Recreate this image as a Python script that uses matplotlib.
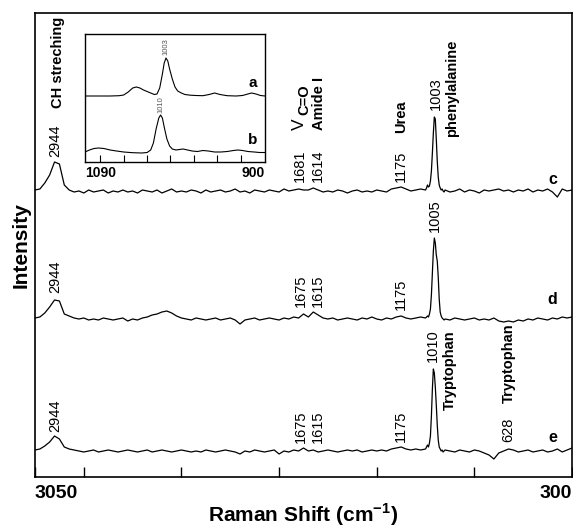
import numpy as np
import matplotlib
matplotlib.use("Agg")
import matplotlib.pyplot as plt

plt.rcParams['font.family'] = ['Liberation Sans', 'DejaVu Sans']
plt.rcParams['mathtext.fontset'] = 'custom'
plt.rcParams['mathtext.rm'] = 'Liberation Sans'
plt.rcParams['mathtext.bf'] = 'Liberation Sans:bold'

# Raman shift sampling (cm-1): coarse, finer around the 1000 cm-1 band, coarse
shift = np.concatenate([np.arange(3050, 1050, -25),
                        np.arange(1050, 950, -5),
                        np.arange(950, 299, -25)])

# intensities (arbitrary units, relative to each baseline)
spec_c = [1, 2, 8, 16, 29, 27, 6, 1, -1, 0,
          -2, 1, -1, 0, 1, -2, 0, -1, 1, -1,
          0, -2, 1, 0, -1, 1, -2, 0, 2, -1,
          0, -1, 1, 0, -2, 1, -1, 0, 1, -1,
          0, 2, -1, 0, -2, 1, 0, -1, 1, 0,
          -1, 2, 0, 1, 2, 1, 1, 3, 1, -1,
          0, -1, 1, 0, -2, 0, 1, -1, 0, -1,
          1, 0, -1, 2, 3, 4, 2, 0, 1, 2,
          # 1050 .. 955
          1, 3, 6, 4, 5, 10, 20, 38, 58, 74, 72, 52, 30, 14, 6, 3, 1, 2, 0, -1,
          # 950 .. 300
          1, -1, 0, 2, -1, 1, 0, -2, 1, 0, 1, 2, 0, 1, -1, 1, 0, 2, -1, 1,
          0, 2, -1, -6, 2, 0, 1]

spec_d = [1, 2, 6, 12, 19, 18, 5, 3, 1, 0,
          1, -1, 0, -1, 1, 0, -1, 0, 1, -2,
          0, -1, 1, 2, 4, 5, 7, 8, 6, 3,
          1, 0, -1, 1, 0, -1, 0, 1, -1, 0,
          1, -1, -5, -1, 0, 1, -1, 0, 1, 0,
          -1, 1, 0, 2, 1, 5, 2, 7, 4, 1,
          0, 1, -1, 0, 1, 0, -1, 1, 0, 2,
          0, -1, 1, 0, 2, 3, 1, 0, 1, 2,
          # 1050 .. 955
          1, 2, 3, 2, 5, 10, 24, 46, 68, 81, 76, 64, 58, 42, 20, 7, 3, 1, 0, -1,
          # 950 .. 300
          0, -1, 1, 0, -1, 0, 1, -1, 0, -1, 1, -2, -3, -2, -3, -1, -2, 0, -1, 1,
          0, -1, 1, 0, 2, 1, 2]

spec_e = [1, 2, 5, 9, 15, 12, 4, 2, 1, 0,
          -1, 0, 1, -1, 0, 1, 0, -1, 0, 1,
          0, -1, 0, 1, -1, 0, 1, 0, -1, 0,
          1, 0, -1, 0, -1, 1, 0, -1, 0, 1,
          0, -1, -3, 0, -1, 1, 0, -1, 0, 1,
          -3, 0, -1, 1, 0, 3, 0, 1, -1, 0,
          1, 0, -1, 0, 1, 0, 1, -1, 0, 1,
          0, 1, 0, 2, 3, 4, 2, 1, 2, 1,
          # 1050 .. 955
          2, 4, 6, 4, 8, 15, 35, 62, 82, 78, 64, 46, 26, 11, 4, 2, 0, 1, -1, 0,
          # 950 .. 300
          1, 0, -1, 1, 0, -1, 1, 0, -2, -4, -8, -2, 0, 2, 1, -1, 0, 1, -1, 0,
          1, -1, 0, 2, -1, 1, 3]

# inset spectra (a, b)
inset_a_shift = [1093, 1080, 1065, 1055, 1050, 1045, 1040, 1036, 1032, 1028, 1024, 1020, 1016,
                 1013, 1010, 1007, 1005, 1003, 1001, 999, 996, 993, 990, 986, 982, 976, 970,
                 962, 955, 949, 943, 935, 925, 918, 912, 908, 903, 898, 893]
inset_a = [0, 0, 0, 0.3, 1, 4, 8, 9, 8, 6, 4.5, 3, 1.5,
           2, 8, 22, 33, 38, 35, 27, 17, 9, 5, 3, 1.5, 0.8, 0.5,
           0.3, 1.5, 3, 1.5, 0.3, 0, 0.5, 2, 3, 2, 0.5, 0]
inset_b_shift = [1093, 1088, 1083, 1078, 1072, 1065, 1058, 1050, 1040, 1030, 1024, 1020, 1017,
                 1014, 1011, 1009, 1007, 1005, 1002, 999, 996, 992, 988, 984, 979, 974, 968,
                 962, 956, 949, 942, 935, 928, 923, 918, 912, 905, 899, 893]
inset_b = [1, 3, 4.5, 5, 4.5, 3, 2, 1, 0.3, 0, 0.5, 3, 10,
           24, 35, 38, 35, 26, 14, 7, 4, 3, 3.5, 4, 3, 2, 1.5,
           2.5, 2, 1, 1, 1.5, 2.5, 3, 2.5, 1.5, 1, 0.5, 0.5]

assert len(shift) == len(spec_c) == len(spec_d) == len(spec_e)

fig = plt.figure(figsize=(5.73, 5.29), dpi=100)
ax = fig.add_axes([35 / 573, 52 / 529, 537 / 573, 464 / 529])

for spec, off in [(spec_c, 286), (spec_d, 158), (spec_e, 26)]:
    ax.plot(shift, np.array(spec) + off, color='black', lw=0.9)

ax.set_xlim(3050, 300)
ax.set_ylim(0, 464)
ax.set_yticks([])
ax.set_xticks([3050, 2800, 2300, 1800, 1300, 800, 300],
              labels=['3050', '', '', '', '', '', '300'])
ax.tick_params(axis='x', direction='in', length=7, width=1, pad=6, labelsize=14)
xl = ax.get_xticklabels()
xl[0].set_ha('left')
xl[-1].set_ha('right')
for lab in xl:
    lab.set_fontweight('bold')
for sp in ax.spines.values():
    sp.set_linewidth(1.2)

ax.set_xlabel(r'Raman Shift (cm$^{\mathbf{-1}}$)', fontsize=15, fontweight='bold')
ax.xaxis.set_label_coords(0.5, -(528 - 477) / 464)
ax.xaxis.label.set_va('bottom')
ax.set_ylabel('Intensity', fontsize=15, fontweight='bold')
ax.yaxis.set_label_coords(-14 / 537, 0.5)
ax.yaxis.label.set_va('center')


def vtext(v, y, s, bold=False, size=10.5):
    ax.text(v, y, s, rotation=90, ha='center', va='bottom', fontsize=size,
            fontweight='bold' if bold else 'normal')


# spectrum c
vtext(2932, 369, 'CH streching', bold=True)
vtext(2944, 320, '2944')
vtext(1692, 295, '1681')
vtext(1603, 295, '1614')
vtext(1698, 347, 'V', size=12.5)
vtext(1672, 362, 'C=O', bold=True)
vtext(1596, 347, 'Amide I', bold=True)
vtext(1175, 295, '1175')
vtext(1175, 344, 'Urea', bold=True)
vtext(995, 367, '1003')
vtext(915, 340, 'phenylalanine', bold=True)
# spectrum d
vtext(2944, 184, '2944')
vtext(1690, 170, '1675')
vtext(1603, 170, '1615')
vtext(1175, 167, '1175')
vtext(1002, 245, '1005')
# spectrum e
vtext(2944, 45, '2944')
vtext(1690, 34, '1675')
vtext(1603, 34, '1615')
vtext(1175, 35, '1175')
vtext(1012, 115, '1010')
vtext(925, 67, 'Tryptophan', bold=True)
vtext(628, 35, '628')
vtext(622, 74, 'Tryptophan', bold=True)

for name, y in [('c', 298), ('d', 177), ('e', 39)]:
    ax.text(400, y, name, ha='center', va='center', fontsize=11.5, fontweight='bold')

# inset
ax_in = fig.add_axes([85 / 573, (529 - 162) / 529, 180 / 573, 128 / 529])
ax_in.plot(inset_a_shift, np.array(inset_a) + 66, color='black', lw=0.8)
ax_in.plot(inset_b_shift, np.array(inset_b) + 9, color='black', lw=0.8)
ax_in.set_xlim(1093, 893)
ax_in.set_ylim(0, 128)
ax_in.set_yticks([])
ax_in.set_xticks([1076, 1050, 1024, 998, 972, 946, 920], labels=[''] * 7)
ax_in.tick_params(axis='x', direction='in', length=5, width=0.8)
for sp in ax_in.spines.values():
    sp.set_linewidth(1.0)
ax_in.text(0, -0.03, '1090', transform=ax_in.transAxes, ha='left', va='top',
           fontsize=10, fontweight='bold')
ax_in.text(1, -0.03, '900', transform=ax_in.transAxes, ha='right', va='top',
           fontsize=10, fontweight='bold')
ax_in.text(907, 79, 'a', ha='center', va='center', fontsize=11, fontweight='bold')
ax_in.text(907, 22, 'b', ha='center', va='center', fontsize=11, fontweight='bold')
ax_in.text(1003, 107, '1003', rotation=90, ha='center', va='bottom', fontsize=5.5, color='#555555')
ax_in.text(1009, 49, '1010', rotation=90, ha='center', va='bottom', fontsize=5.5, color='#555555')

fig.savefig('out.png', dpi=100)
